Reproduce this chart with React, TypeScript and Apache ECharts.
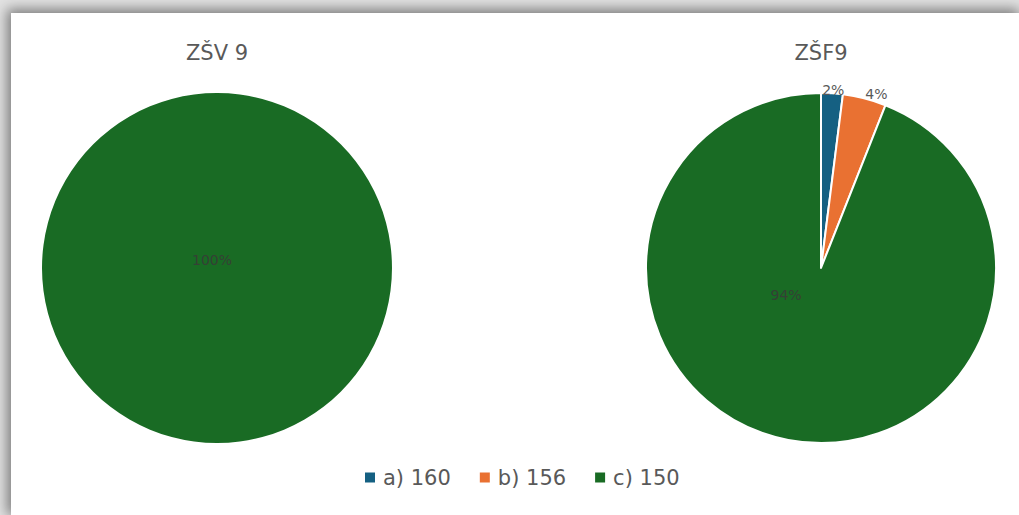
import React, { useEffect, useRef } from "react";
import * as echarts from "echarts";

const categories = ["a) 160", "b) 156", "c) 150"];
const zsvValues = [0, 0, 100];
const zsfValues = [2, 4, 94];
const pieTitles = ["ZŠV 9", "ZŠF9"];
const colors = ["#156082", "#E97132", "#196B24"];

const FONT = "'DejaVu Sans', sans-serif";

export default function App() {
  const ref = useRef<HTMLDivElement>(null);

  useEffect(() => {
    if (!ref.current) return;
    const chart = echarts.init(ref.current, null, { renderer: "svg" });

    const makeData = (vals: number[]) =>
      vals.map((v, i) => ({
        name: categories[i],
        value: v,
        label: { show: v > 0 },
      }));

    chart.setOption({
      animation: false,
      color: colors,
      textStyle: { fontFamily: FONT },
      title: [
        {
          text: pieTitles[0],
          left: 201,
          top: 24,
          textAlign: "center",
          textStyle: { fontSize: 21, fontWeight: "normal", color: "#595959", fontFamily: FONT },
        },
        {
          text: pieTitles[1],
          left: 805,
          top: 24,
          textAlign: "center",
          textStyle: { fontSize: 21, fontWeight: "normal", color: "#595959", fontFamily: FONT },
        },
      ],
      legend: {
        data: categories,
        left: 349,
        top: 449,
        icon: "rect",
        itemWidth: 10,
        itemHeight: 10,
        itemGap: 29,
        textStyle: { fontSize: 21, color: "#595959", fontFamily: FONT, padding: [0, 0, 0, 3] },
      },
      series: [
        {
          type: "pie",
          center: [206, 255],
          radius: 175,
          startAngle: 90,
          clockwise: true,
          avoidLabelOverlap: false,
          itemStyle: { borderWidth: 0 },
          label: {
            position: "inside",
            formatter: "{d}%",
            fontSize: 14,
            color: "#354035",
            fontFamily: FONT,
          },
          labelLine: { show: false },
          labelLayout: (p: any) => (p.dataIndex === 2 ? { dx: -5, dy: -99 } : {}),
          emphasis: { disabled: true },
          data: makeData(zsvValues),
        },
        {
          type: "pie",
          center: [810, 255],
          radius: 175,
          startAngle: 90,
          clockwise: true,
          avoidLabelOverlap: false,
          itemStyle: { borderWidth: 2, borderColor: "#ffffff" },
          label: {
            position: "outside",
            formatter: "{d}%",
            fontSize: 14,
            color: "#595959",
            fontFamily: FONT,
            distanceToLabelLine: 0,
          },
          labelLine: { show: false, length: 3, length2: 0 },
          labelLayout: (p: any) => {
            if (p.dataIndex === 0) return { dx: -10, dy: 0 };
            if (p.dataIndex === 1) return { dx: 0, dy: -2 };
            return { dx: -18, dy: -62 };
          },
          emphasis: { disabled: true },
          data: zsfValues.map((v, i) => ({
            name: categories[i],
            value: v,
            label:
              i === 2
                ? { position: "inside", fontSize: 14, color: "#354035" }
                : {},
          })),
        },
      ],
    });

    return () => chart.dispose();
  }, []);

  return (
    <div
      style={{
        position: "fixed",
        left: 0,
        top: 0,
        width: 1019,
        height: 515,
        background: "#e2e2e2",
        overflow: "hidden",
      }}
    >
      <div
        style={{
          position: "absolute",
          left: 11,
          top: 13,
          width: 1008,
          height: 502,
          background: "#ffffff",
          boxShadow: "-2px -2px 12px 2px rgba(0,0,0,0.45)",
        }}
      >
        <div ref={ref} style={{ width: 1008, height: 502 }} />
      </div>
    </div>
  );
}
